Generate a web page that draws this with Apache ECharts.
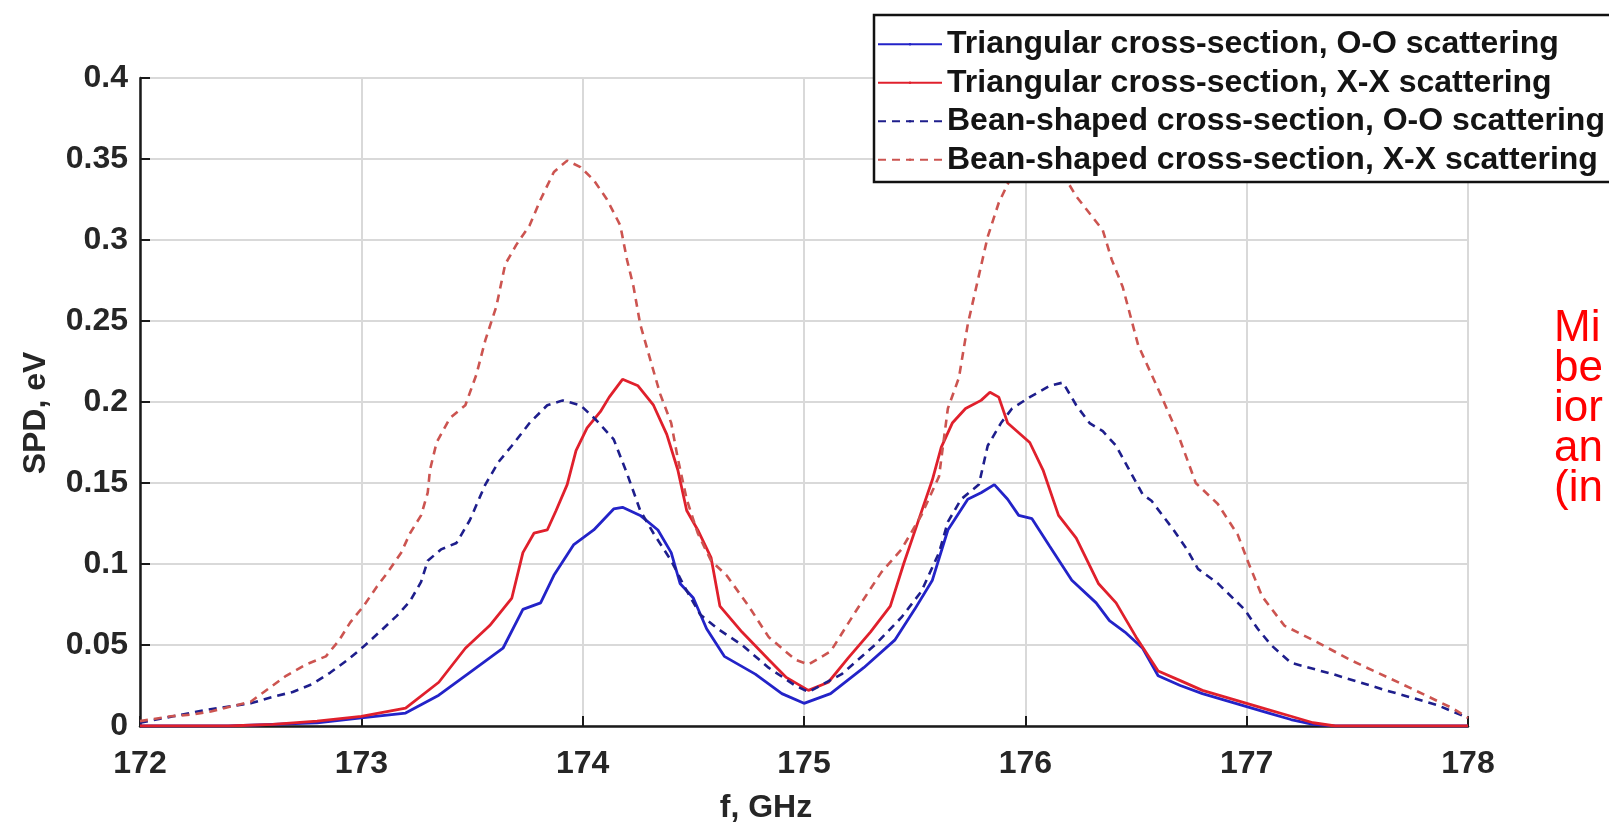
<!DOCTYPE html>
<html>
<head>
<meta charset="utf-8">
<script src="https://cdn.jsdelivr.net/npm/echarts@6/dist/echarts.min.js"></script>
<style>html,body{margin:0;padding:0;background:#fff;}#c{width:1609px;height:822px;}</style>
</head>
<body>
<div id="c"></div>
<script>
// ---- data ----
const seriesNames = [
  'Triangular cross-section, O-O scattering',
  'Triangular cross-section, X-X scattering',
  'Bean-shaped cross-section, O-O scattering',
  'Bean-shaped cross-section, X-X scattering'
];
const xTicks = [172, 173, 174, 175, 176, 177, 178];
const yTicks = [0, 0.05, 0.1, 0.15, 0.2, 0.25, 0.3, 0.35, 0.4];
const sideText = ['Mi', 'be', 'ior', 'an', '(in'];

const fTriOO = [172.0,172.4,172.6,172.8,173.0,173.2,173.35,173.5,173.64,173.73,173.81,173.87,173.96,174.05,174.14,174.18,174.26,174.34,174.40,174.44,174.50,174.56,174.64,174.78,174.9,175.0,175.12,175.27,175.41,175.50,175.58,175.65,175.74,175.80,175.86,175.92,175.97,176.03,176.11,176.21,176.32,176.38,176.45,176.53,176.6,176.7,176.8,176.9,177.0,177.1,177.2,177.3,177.4,178.0];
const vTriOO = [0,0,0.001,0.002,0.005,0.008,0.019,0.034,0.048,0.072,0.076,0.093,0.112,0.121,0.134,0.135,0.130,0.121,0.107,0.088,0.079,0.060,0.043,0.032,0.020,0.014,0.020,0.036,0.053,0.072,0.090,0.121,0.140,0.144,0.149,0.140,0.130,0.128,0.111,0.090,0.076,0.065,0.058,0.048,0.031,0.025,0.020,0.016,0.012,0.008,0.004,0.001,0,0];

const fTriXX = [172.0,172.4,172.6,172.8,173.0,173.2,173.35,173.47,173.58,173.68,173.73,173.78,173.84,173.88,173.93,173.97,174.02,174.08,174.12,174.18,174.25,174.32,174.38,174.43,174.47,174.52,174.58,174.62,174.72,174.84,174.92,175.02,175.11,175.2,175.3,175.39,175.45,175.52,175.58,175.62,175.67,175.73,175.80,175.84,175.88,175.92,176.02,176.08,176.15,176.23,176.33,176.41,176.5,176.6,176.7,176.8,176.9,177.0,177.1,177.2,177.3,177.4,178.0];
const vTriXX = [0,0,0.001,0.003,0.006,0.011,0.027,0.048,0.062,0.079,0.107,0.119,0.121,0.133,0.149,0.170,0.184,0.194,0.203,0.214,0.210,0.198,0.180,0.158,0.133,0.121,0.104,0.074,0.058,0.041,0.030,0.022,0.027,0.042,0.058,0.074,0.100,0.128,0.152,0.172,0.187,0.196,0.201,0.206,0.203,0.187,0.175,0.158,0.130,0.116,0.088,0.076,0.055,0.034,0.028,0.022,0.018,0.014,0.010,0.006,0.002,0,0];

const fBeanOO = [172.0,172.15,172.3,172.5,172.6,172.69,172.78,172.86,172.94,173.01,173.09,173.16,173.22,173.27,173.30,173.36,173.43,173.49,173.56,173.62,173.68,173.76,173.84,173.91,173.99,174.06,174.14,174.20,174.26,174.32,174.40,174.46,174.53,174.61,174.72,174.84,174.96,175.02,175.17,175.32,175.44,175.53,175.61,175.65,175.71,175.79,175.83,175.89,175.94,176.02,176.11,176.17,176.23,176.29,176.35,176.41,176.47,176.53,176.57,176.67,176.73,176.78,176.87,176.99,177.05,177.11,177.20,177.39,177.63,177.86,178.0];
const vBeanOO = [0.002,0.006,0.010,0.014,0.018,0.021,0.026,0.033,0.041,0.049,0.059,0.068,0.077,0.089,0.102,0.109,0.113,0.127,0.149,0.163,0.173,0.187,0.198,0.201,0.198,0.189,0.177,0.156,0.133,0.119,0.102,0.086,0.069,0.060,0.050,0.036,0.025,0.021,0.032,0.050,0.067,0.083,0.107,0.126,0.140,0.149,0.173,0.187,0.196,0.203,0.210,0.212,0.198,0.187,0.182,0.173,0.158,0.143,0.139,0.121,0.109,0.097,0.088,0.072,0.060,0.050,0.039,0.032,0.022,0.013,0.005];

const fBeanXX = [172.0,172.14,172.23,172.32,172.41,172.5,172.59,172.66,172.75,172.84,172.9,172.95,173.01,173.07,173.12,173.18,173.22,173.27,173.30,173.31,173.34,173.40,173.47,173.52,173.56,173.61,173.65,173.70,173.76,173.81,173.87,173.93,173.99,174.05,174.11,174.17,174.20,174.23,174.26,174.31,174.35,174.40,174.43,174.47,174.52,174.58,174.65,174.75,174.84,174.96,175.02,175.12,175.23,175.35,175.44,175.53,175.61,175.65,175.70,175.74,175.79,175.83,175.88,175.95,176.05,176.15,176.23,176.35,176.39,176.44,176.51,176.61,176.69,176.77,176.87,176.96,177.01,177.07,177.17,177.30,177.48,177.70,177.93,178.0];
const vBeanXX = [0.003,0.006,0.007,0.009,0.012,0.015,0.024,0.031,0.038,0.043,0.053,0.064,0.074,0.086,0.095,0.107,0.119,0.130,0.144,0.158,0.175,0.190,0.198,0.217,0.238,0.259,0.285,0.297,0.309,0.325,0.342,0.349,0.345,0.337,0.325,0.309,0.288,0.271,0.248,0.224,0.205,0.187,0.165,0.140,0.119,0.102,0.093,0.074,0.055,0.041,0.038,0.046,0.070,0.095,0.109,0.130,0.154,0.196,0.215,0.248,0.278,0.302,0.323,0.343,0.357,0.345,0.327,0.306,0.288,0.271,0.235,0.205,0.180,0.150,0.137,0.118,0.100,0.080,0.062,0.053,0.040,0.026,0.011,0.005];

// ---- chart ----
function pairs(f, v) { return f.map((x, i) => [x, v[i]]); }
const FONT = '"Liberation Sans", Arial, sans-serif';
const colors = ['#2323c8', '#e0202c', '#1e1e8c', '#cc5450'];
const styles = [
  { type: 'solid', width: 2.8 },
  { type: 'solid', width: 2.8 },
  { type: [8, 6], width: 2.6 },
  { type: [8, 6], width: 2.6 }
];
const dataSets = [pairs(fTriOO, vTriOO), pairs(fTriXX, vTriXX), pairs(fBeanOO, vBeanOO), pairs(fBeanXX, vBeanXX)];

const chart = echarts.init(document.getElementById('c'), null, { renderer: 'canvas' });
chart.setOption({
  animation: false,
  backgroundColor: '#ffffff',
  grid: { left: 140, right: 141, top: 78, bottom: 96, containLabel: false, outerBoundsMode: 'none' },
  xAxis: {
    type: 'value', min: xTicks[0], max: xTicks[xTicks.length - 1], interval: 1,
    name: 'f, GHz', nameLocation: 'middle', nameGap: 66,
    nameTextStyle: { fontFamily: FONT, fontSize: 32, fontWeight: 'bold', color: '#262626', padding: [0, 76, 0, 0] },
    axisLine: { show: true, onZero: false, lineStyle: { color: '#1a1a1a', width: 2.5 } },
    axisTick: { show: true, inside: true, length: 10, lineStyle: { color: '#1a1a1a', width: 2 } },
    axisLabel: { fontFamily: FONT, fontSize: 32, fontWeight: 'bold', color: '#262626', margin: 22 },
    splitLine: { show: true, lineStyle: { color: '#d9d9d9', width: 2 } }
  },
  yAxis: {
    type: 'value', min: yTicks[0], max: yTicks[yTicks.length - 1], interval: 0.05,
    name: 'SPD, eV', nameLocation: 'middle', nameGap: 88, nameRotate: 90,
    nameTextStyle: { fontFamily: FONT, fontSize: 32, fontWeight: 'bold', color: '#262626', padding: [0, 22, 0, 0] },
    axisLine: { show: true, lineStyle: { color: '#1a1a1a', width: 2.5 } },
    axisTick: { show: true, inside: true, length: 10, lineStyle: { color: '#1a1a1a', width: 2 } },
    axisLabel: { fontFamily: FONT, fontSize: 32, fontWeight: 'bold', color: '#262626', margin: 12 },
    splitLine: { show: true, lineStyle: { color: '#d9d9d9', width: 2 } }
  },
  legend: {
    orient: 'vertical', left: 874, top: 15, z: 20,
    itemWidth: 64, itemHeight: 3, itemGap: 0,
    padding: [10, 90, 3, 3],
    borderColor: '#111', borderWidth: 2.5, backgroundColor: '#ffffff',
    textStyle: { fontFamily: FONT, fontSize: 32, fontWeight: 'bold', color: '#141414', lineHeight: 38.5 },
    data: seriesNames
  },
  series: seriesNames.map((n, i) => ({
    name: n, type: 'line', data: dataSets[i], symbol: 'none', smooth: false,
    lineStyle: Object.assign({ color: colors[i] }, styles[i]),
    itemStyle: { color: colors[i] },
    z: 2
  })),
  graphic: sideText.map((t, i) => ({
    type: 'text', left: 1554, top: 307 + i * 40, z: 30,
    style: { text: t, fill: '#ff0000', font: '44px "Liberation Sans", Arial, sans-serif' }
  }))
});
</script>
</body>
</html>
